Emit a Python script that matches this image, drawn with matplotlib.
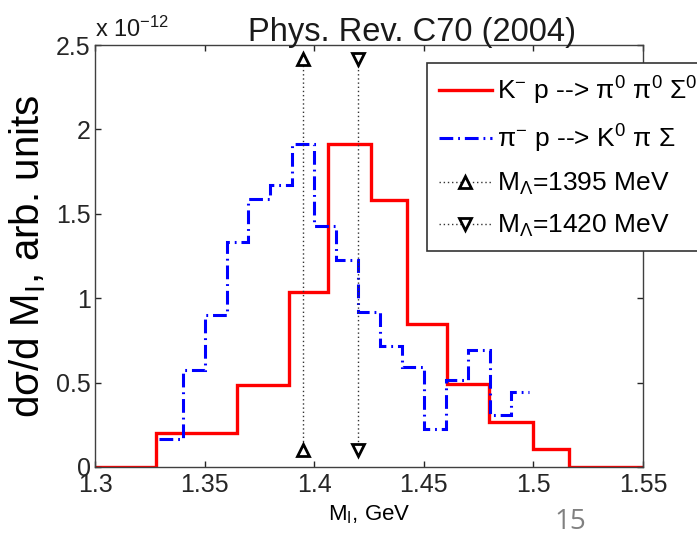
import matplotlib
matplotlib.use("Agg")
import matplotlib.pyplot as plt

plt.rcParams['font.family'] = ['Liberation Sans', 'DejaVu Sans']
plt.rcParams['mathtext.fontset'] = 'custom'
plt.rcParams['mathtext.rm'] = 'Liberation Sans'
plt.rcParams['mathtext.it'] = 'Liberation Sans'
plt.rcParams['mathtext.bf'] = 'Liberation Sans:bold'

# ---- data (values in units of 1e-12, arb. units) ----
red_edges = [1.30, 1.3279, 1.3647, 1.3883, 1.4062, 1.4259, 1.4423, 1.4606,
             1.4799, 1.4997, 1.5161, 1.55]
red_values = [0.0, 0.204, 0.485, 1.039, 1.913, 1.583, 0.847, 0.489, 0.267,
              0.105, 0.0]

blue_edges = [1.329, 1.340, 1.350, 1.360, 1.370, 1.380, 1.390, 1.400, 1.410,
              1.420, 1.430, 1.440, 1.450, 1.460, 1.470, 1.480, 1.490, 1.498]
blue_values = [0.164, 0.574, 0.900, 1.332, 1.589, 1.672, 1.913, 1.425, 1.227,
               0.920, 0.716, 0.593, 0.228, 0.515, 0.692, 0.307, 0.445]

lambda_masses = [1.395, 1.420]
marker_levels = [0.10, 2.42]

x_ticks = [1.30, 1.35, 1.40, 1.45, 1.50, 1.55]
x_ticklabels = ['1.3', '1.35', '1.4', '1.45', '1.5', '1.55']
y_ticks = [0.0, 0.5, 1.0, 1.5, 2.0, 2.5]
y_ticklabels = ['0', '0.5', '1', '1.5', '2', '2.5']

labels = [r'K$^{-}$ p --> π$^{0}$ π$^{0}$ Σ$^{0}$',
          r'π$^{-}$ p --> K$^{0}$ π Σ',
          r'M$_{Λ}$=1395 MeV',
          r'M$_{Λ}$=1420 MeV']

W, H = 697, 537
fig = plt.figure(figsize=(W / 100, H / 100), dpi=100)
ax = fig.add_axes([95 / W, 1 - 467 / H, (643 - 95) / W, (467 - 45) / H])

h_red = ax.stairs(red_values, red_edges, baseline=None, color=(1, 0, 0),
                  linewidth=2.4, label=labels[0])
h_blue = ax.stairs(blue_values, blue_edges, baseline=None, color=(0, 0, 1),
                   linewidth=2.2, linestyle=(0, (4.5, 1.6, 0.6, 1.6)),
                   label=labels[1])
h_up, = ax.plot([lambda_masses[0]] * 2, marker_levels, linestyle=(0, (1, 2)),
                color='0.2', linewidth=1.0, marker='^', markersize=8,
                markerfacecolor='white', markeredgecolor='k',
                markeredgewidth=2.0, label=labels[2])
h_dn, = ax.plot([lambda_masses[1]] * 2, marker_levels, linestyle=(0, (1, 2)),
                color='0.2', linewidth=1.0, marker='v', markersize=8,
                markerfacecolor='white', markeredgecolor='k',
                markeredgewidth=2.0, label=labels[3])

ax.set_xlim(1.30, 1.55)
ax.set_ylim(0, 2.5)
ax.set_xticks(x_ticks)
ax.set_xticklabels(x_ticklabels)
ax.set_yticks(y_ticks)
ax.set_yticklabels(y_ticklabels)
ax.tick_params(direction='in', length=4.5, width=1.0, top=True, right=True,
               labelsize=18, colors='0.15', pad=3)
ax.tick_params(axis='x', pad=4)
for s in ax.spines.values():
    s.set_color('0.25')
    s.set_linewidth(1.0)

ax.set_xlabel(r'M$_{\mathrm{I}}$, GeV', fontsize=16, labelpad=5)
ax.set_ylabel(r'dσ/d M$_{\mathrm{I}}$, arb. units', fontsize=29, labelpad=6)

fig.text(412 / W, 1 - 41 / H, 'Phys. Rev. C70 (2004)', ha='center',
         va='baseline', fontsize=23.5, color='0.1')
fig.text(95 / W, 1 - 37 / H, r'x 10$^{-12}$', ha='left', va='baseline',
         fontsize=17, color='0.1')
fig.text(570 / W, 1 - 529 / H, '15', ha='center', va='baseline',
         fontsize=20, color='0.5', family=['Open Sans', 'DejaVu Sans'])

leg = fig.legend(handles=[h_red, h_blue, h_up, h_dn], labels=labels,
                 loc='upper left', bbox_to_anchor=(427 / W, 1 - 63 / H),
                 bbox_transform=fig.transFigure, borderaxespad=0,
                 fontsize=19, numpoints=1, handlelength=2.0,
                 handletextpad=0.2, labelspacing=0.6, borderpad=0.45,
                 fancybox=False, framealpha=1, edgecolor='0.2')
leg.get_frame().set_linewidth(1.2)

fig.savefig('out.png', dpi=100)
